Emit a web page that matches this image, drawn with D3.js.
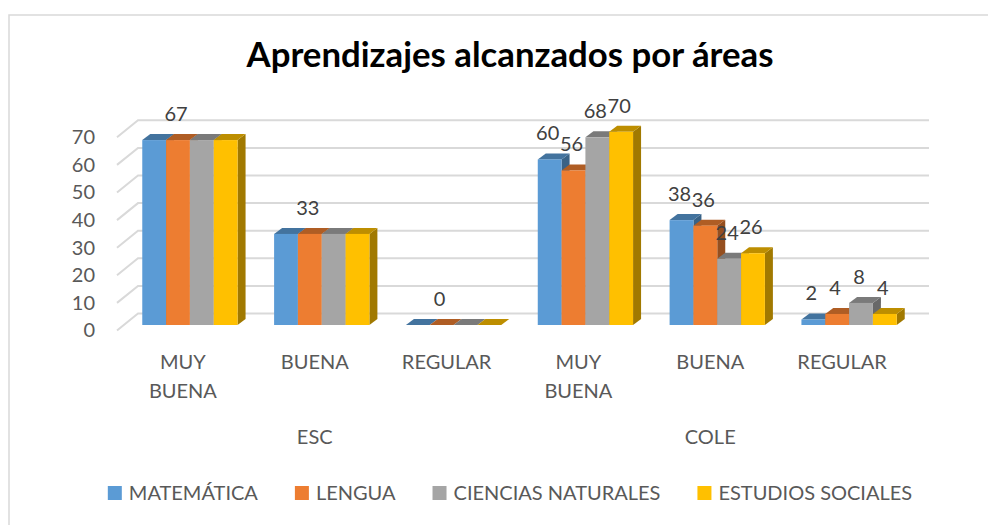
<!DOCTYPE html>
<html>
<head>
<meta charset="utf-8">
<script src="https://cdn.jsdelivr.net/npm/d3@7"></script>
<style>
  body { margin: 0; background: #fff; }
  text { font-family: Lato, "Open Sans", sans-serif; }
</style>
</head>
<body>
<script>
// chart data
const categoryLines = [['MUY', 'BUENA'], ['BUENA'], ['REGULAR'], ['MUY', 'BUENA'], ['BUENA'], ['REGULAR']];
const groupNames = ['ESC', 'COLE'];
const seriesNames = ['MATEMÁTICA', 'LENGUA', 'CIENCIAS NATURALES', 'ESTUDIOS SOCIALES'];
const matematica = [67, 33, 0, 60, 38, 2];
const lengua = [67, 33, 0, 56, 36, 4];
const cienciasNaturales = [67, 33, 0, 68, 24, 8];
const estudiosSociales = [67, 33, 0, 70, 26, 4];
// only some data labels are shown in the original
const labelMatematica = [false, false, false, true, true, true];
const labelLengua = [true, true, true, true, true, true];
const labelCiencias = [false, false, false, true, true, true];
const labelEstudios = [false, false, false, true, true, true];
const yTicks = [0, 10, 20, 30, 40, 50, 60, 70];
const colors = ['#5b9bd5', '#ed7d31', '#a5a5a5', '#ffc000'];

const seriesValues = [matematica, lengua, cienciasNaturales, estudiosSociales];
const seriesLabels = [labelMatematica, labelLengua, labelCiencias, labelEstudios];

let width = 988;
let height = 525;

// depth offsets for the 3-D look
let wallDx = 21, wallDy = 17;     // back wall
let barOx = 7, barOy = 5.5;       // bar front face
let barDx = 8, barDy = 6;         // bar thickness

let svg = d3.select('body').append('svg')
   .attr('width', width)
   .attr('height', height);

// chart border (only top/left visible in the crop)
svg.append('path')
   .attr('d', 'M9,' + height + ' L9,15 L' + width + ',15')
   .attr('fill', 'none')
   .attr('stroke', '#d9d9d9')
   .attr('stroke-width', 1.5);

let xScale = d3.scaleBand()
   .domain(d3.range(categoryLines.length))
   .range([117, 908]);
let groupWidth = 95.3;
let xInner = d3.scaleBand()
   .domain(d3.range(seriesNames.length))
   .range([0, groupWidth]);
let yScale = d3.scaleLinear()
   .domain([0, 70])
   .range([330.5, 137.3]);

// back wall gridlines + floor diagonals
let x0 = xScale.range()[0], x1 = xScale.range()[1];
svg.append('g').selectAll('path')
   .data(yTicks)
   .enter()
   .append('path')
   .attr('d', d => 'M' + x0 + ',' + yScale(d) + ' L' + (x0 + wallDx) + ',' + (yScale(d) - wallDy) +
      ' L' + (x1 + wallDx) + ',' + (yScale(d) - wallDy))
   .attr('fill', 'none')
   .attr('stroke', '#d9d9d9')
   .attr('stroke-width', 2);

// y axis labels
let yAxis = d3.axisLeft(yScale)
   .tickValues(yTicks)
   .tickSize(0)
   .tickPadding(0);
let yAxisG = svg.append('g')
   .attr('transform', 'translate(95,0)')
   .call(yAxis);
yAxisG.select('.domain').remove();
yAxisG.selectAll('text')
   .attr('font-family', 'Lato, sans-serif')
   .attr('font-size', 20)
   .attr('fill', '#595959');

// shade helper
let shade = (c, k) => {
   let col = d3.rgb(c);
   return d3.rgb(col.r * k, col.g * k, col.b * k).formatHex();
}

// flatten bars, left to right so right bars cover left side faces
let bars = [];
categoryLines.forEach((cat, i) => {
   seriesNames.forEach((s, j) => {
      let left = xScale(i) + (xScale.bandwidth() - groupWidth) / 2 + barOx + xInner(j);
      bars.push({
         cat: i, series: j, value: seriesValues[j][i], label: seriesLabels[j][i],
         x0: left, x1: left + xInner.bandwidth(),
         yTop: yScale(seriesValues[j][i]) - barOy,
         yBot: yScale(0) - barOy
      });
   });
});

let barG = svg.append('g').selectAll('g')
   .data(bars)
   .enter()
   .append('g');

barG.append('path')   // side
   .attr('d', d => 'M' + d.x1 + ',' + d.yTop + ' L' + (d.x1 + barDx) + ',' + (d.yTop - barDy) +
      ' L' + (d.x1 + barDx) + ',' + (d.yBot - barDy) + ' L' + d.x1 + ',' + d.yBot + 'Z')
   .attr('fill', d => shade(colors[d.series], 0.63));
barG.append('path')   // top
   .attr('d', d => 'M' + d.x0 + ',' + d.yTop + ' L' + d.x1 + ',' + d.yTop +
      ' L' + (d.x1 + barDx) + ',' + (d.yTop - barDy) + ' L' + (d.x0 + barDx) + ',' + (d.yTop - barDy) + 'Z')
   .attr('fill', d => shade(colors[d.series], 0.74));
barG.append('rect')   // front
   .attr('x', d => d.x0)
   .attr('y', d => d.yTop)
   .attr('width', d => d.x1 - d.x0)
   .attr('height', d => d.yBot - d.yTop)
   .attr('fill', d => colors[d.series]);

// data labels
svg.append('g').selectAll('text')
   .data(bars.filter(d => d.label))
   .enter()
   .append('text')
   .attr('x', d => (d.x0 + d.x1) / 2 - 2)
   .attr('y', d => d.yTop - 19)
   .attr('text-anchor', 'middle')
   .attr('font-size', 20)
   .attr('fill', '#404040')
   .text(d => d.value);

// category labels
let catG = svg.append('g').selectAll('text')
   .data(categoryLines)
   .enter()
   .append('text')
   .attr('text-anchor', 'middle')
   .attr('font-size', 20)
   .attr('fill', '#595959');
catG.selectAll('tspan')
   .data((d, i) => d.map(line => ({ line: line, i: i })))
   .enter()
   .append('tspan')
   .attr('x', d => xScale(d.i) + xScale.bandwidth() / 2)
   .attr('y', (d, k) => 369 + k * 29)
   .text(d => d.line);

// group labels (ESC / COLE)
svg.append('g').selectAll('text')
   .data(groupNames)
   .enter()
   .append('text')
   .attr('x', (d, g) => (xScale(g * 3) + xScale(g * 3 + 2) + xScale.bandwidth()) / 2)
   .attr('y', 444)
   .attr('text-anchor', 'middle')
   .attr('font-size', 20)
   .attr('fill', '#595959')
   .text(d => d);

// title, sized to the width it has in the original
let title = svg.append('text')
   .attr('x', 510)
   .attr('y', 67)
   .attr('text-anchor', 'middle')
   .attr('font-size', 30)
   .attr('font-weight', 'bold')
   .attr('fill', '#000')
   .text('Aprendizajes alcanzados por áreas');
let tw = title.node().getComputedTextLength();
title.attr('font-size', 30 * 527 / tw);

// legend
let legend = svg.append('g');
let legendX = 0;
let items = seriesNames.map((name, j) => {
   let item = legend.append('g');
   item.append('rect')
      .attr('x', 0).attr('y', -7)
      .attr('width', 14).attr('height', 14)
      .attr('fill', colors[j]);
   let t = item.append('text')
      .attr('x', 21).attr('y', 7)
      .attr('font-size', 20)
      .attr('fill', '#595959')
      .text(name);
   item.attr('transform', 'translate(' + legendX + ',0)');
   legendX += 21 + t.node().getComputedTextLength() + 37;
   return item;
});
let legendWidth = legendX - 37;
legend.attr('transform', 'translate(' + (510 - legendWidth / 2) + ',493)');
</script>
</body>
</html>
